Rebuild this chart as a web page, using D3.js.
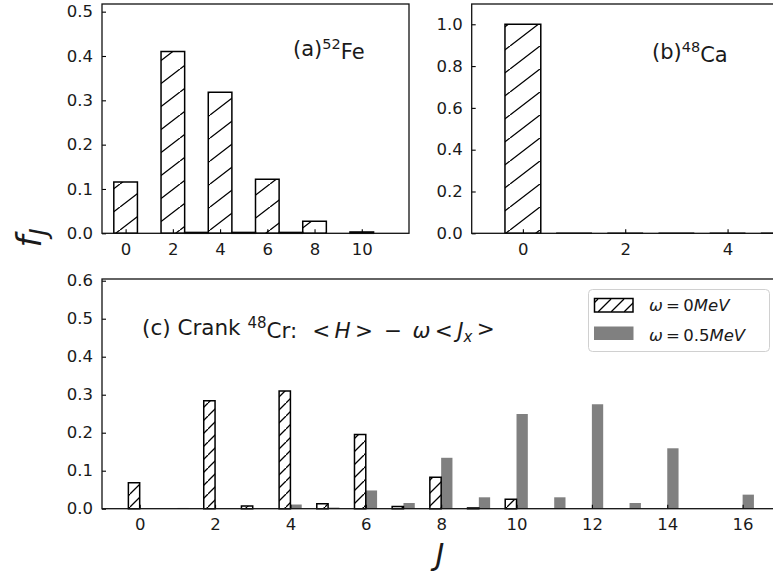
<!DOCTYPE html>
<html>
<head>
<meta charset="utf-8" />
<title>fJ distributions</title>
<script src="https://cdn.jsdelivr.net/npm/d3@7/dist/d3.min.js"></script>
<style>
    body { margin: 0; background: #fff; }
    text { font-family: "DejaVu Sans", sans-serif; fill: #1a1a1a; }
</style>
</head>
<body>
<script>
    // (a) 52Fe
    var jFe = [0, 2, 3, 4, 5, 6, 7, 8, 10];
    var fFe = [0.116, 0.41, 0.002, 0.318, 0.002, 0.122, 0.002, 0.027, 0.003];
    var xTicksFe = [0, 2, 4, 6, 8, 10];
    var yTicksFe = [0, 0.1, 0.2, 0.3, 0.4, 0.5];

    // (b) 48Ca
    var jCa = [0, 1, 2, 3, 4, 5];
    var fCa = [1.0, 0, 0, 0, 0, 0];
    var xTicksCa = [0, 2, 4];
    var yTicksCa = [0, 0.2, 0.4, 0.6, 0.8, 1.0];

    // (c) cranked 48Cr, omega = 0 and omega = 0.5 MeV
    var jCr = [0, 1, 2, 3, 4, 5, 6, 7, 8, 9, 10, 11, 12, 13, 14, 15, 16];
    var fCrW0 = [0.068, null, 0.284, 0.007, 0.31, 0.013, 0.195, 0.006, 0.083, 0.002, 0.025, null, null, null, null, null, null];
    var fCrW05 = [null, 0.002, null, null, 0.011, 0.003, 0.048, 0.015, 0.134, 0.030, 0.249, 0.030, 0.275, 0.015, 0.159, null, 0.037];
    var xTicksCr = [0, 2, 4, 6, 8, 10, 12, 14, 16];
    var yTicksCr = [0, 0.1, 0.2, 0.3, 0.4, 0.5, 0.6];

    var legendLabels = ["0MeV", "0.5MeV"];

    var width = 773;
    var height = 578;
    var tickFont = "16.5px";
    var barGray = "#808080";

    var svg = d3.select("body")
        .append("svg")
        .attr("width", width)
        .attr("height", height);

    var defs = svg.append("defs");
    function hatch(id, w, h) {
        defs.append("pattern")
            .attr("id", id)
            .attr("patternUnits", "userSpaceOnUse")
            .attr("width", w)
            .attr("height", h)
            .append("path")
            .attr("d", "M0," + h + "L" + w + ",0M" + (-w) + "," + h + "L0,0M" + w + "," + (2 * h) + "L" + (2 * w) + "," + h)
            .attr("stroke", "#000")
            .attr("stroke-width", 1.3)
            .attr("fill", "none");
    }
    hatch("hatchA", 30, 23);
    hatch("hatchC", 13, 13);

    function barPath(x0, x1, y0, y1) {
        return "M" + x0 + "," + y0 + "H" + x1 + "V" + y1 + "H" + x0 + "Z";
    }

    function panel(box, xDomain, yDomain, xTicks, yTicks) {
        var x = d3.scaleLinear().domain(xDomain).range([box.left, box.right]);
        var y = d3.scaleLinear().domain(yDomain).range([box.bottom, box.top]);
        var g = svg.append("g");
        var bars = g.append("g");
        var ax = g.append("g");

        ax.append("g")
            .attr("transform", "translate(0," + box.bottom + ")")
            .call(d3.axisBottom(x).tickValues(xTicks).tickSizeInner(-4).tickSizeOuter(0).tickPadding(10).tickFormat(d3.format("d")))
            .call(function (a) { a.select(".domain").remove(); });

        ax.append("g")
            .attr("transform", "translate(" + box.left + ",0)")
            .call(d3.axisLeft(y).tickValues(yTicks).tickSizeInner(-4).tickSizeOuter(0).tickPadding(9).tickFormat(d3.format(".1f")))
            .call(function (a) { a.select(".domain").remove(); });

        ax.selectAll(".tick line").attr("stroke", "#000").attr("stroke-width", 1.1);
        ax.selectAll(".tick text")
            .style("font-family", "DejaVu Sans")
            .style("font-size", tickFont)
            .attr("fill", "#1a1a1a");

        g.append("rect")
            .attr("x", box.left)
            .attr("y", box.top)
            .attr("width", box.right - box.left)
            .attr("height", box.bottom - box.top)
            .attr("fill", "none")
            .attr("stroke", "#111")
            .attr("stroke-width", 1.3);

        return { x: x, y: y, bars: bars, g: g };
    }

    // panel (a)
    var pa = panel({ left: 102, right: 409, top: 4, bottom: 233.3 }, [-1, 12], [0, 0.5173], xTicksFe, yTicksFe);
    pa.bars.selectAll("path")
        .data(jFe).enter()
        .append("path")
        .attr("d", function (d, i) { return barPath(pa.x(d - 0.5), pa.x(d + 0.5), pa.y(0), pa.y(fFe[i])); })
        .attr("fill", "url(#hatchA)")
        .attr("stroke", "#000")
        .attr("stroke-width", 1.5);

    // panel (b), runs past the right edge of the figure
    var pb = panel({ left: 471.7, right: 790, top: 4, bottom: 233.3 }, [-1, 5.22], [0, 1.097], xTicksCa, yTicksCa);
    pb.bars.selectAll("path")
        .data(jCa).enter()
        .append("path")
        .attr("d", function (d, i) { return barPath(pb.x(d - 0.35), pb.x(d + 0.35), pb.y(0), pb.y(fCa[i])); })
        .attr("fill", "url(#hatchA)")
        .attr("stroke", "#000")
        .attr("stroke-width", 1.5);

    // panel (c)
    var pc = panel({ left: 102, right: 780.3, top: 279, bottom: 508.7 }, [-1, 17], [0, 0.6045], xTicksCr, yTicksCr);
    pc.bars.selectAll(".w05")
        .data(jCr.filter(function (d, i) { return fCrW05[i] !== null; })).enter()
        .append("path")
        .attr("class", "w05")
        .attr("d", function (d) { return barPath(pc.x(d), pc.x(d + 0.3), pc.y(0), pc.y(fCrW05[d])); })
        .attr("fill", barGray);
    pc.bars.selectAll(".w0")
        .data(jCr.filter(function (d, i) { return fCrW0[i] !== null; })).enter()
        .append("path")
        .attr("class", "w0")
        .attr("d", function (d) { return barPath(pc.x(d - 0.3), pc.x(d), pc.y(0), pc.y(fCrW0[d])); })
        .attr("fill", "url(#hatchC)")
        .attr("stroke", "#000")
        .attr("stroke-width", 1.5);

    // annotations
    var ta = svg.append("text").attr("x", 293).attr("y", 56).style("font-size", "21px");
    ta.append("tspan").text("(a)");
    ta.append("tspan").attr("dy", "-0.45em").style("font-size", "14.5px").text("52");
    ta.append("tspan").attr("dy", "0.45em").text("Fe");

    var tb = svg.append("text").attr("x", 652).attr("y", 59).style("font-size", "21px");
    tb.append("tspan").text("(b)");
    tb.append("tspan").attr("dy", "-0.45em").style("font-size", "14.5px").text("48");
    tb.append("tspan").attr("dy", "0.45em").text("Ca");

    var tc = svg.append("text").attr("x", 142).attr("y", 335).style("font-size", "21.5px");
    tc.append("tspan").text("(c) Crank ");
    tc.append("tspan").attr("dy", "-0.45em").style("font-size", "15px").text("48");
    tc.append("tspan").attr("dy", "0.45em").text("Cr:\u2002\u2009<\u2009");
    tc.append("tspan").style("font-style", "italic").text("H");
    tc.append("tspan").text("\u2009>\u2002\u2212\u2002");
    tc.append("tspan").style("font-style", "italic").text("\u03c9");
    tc.append("tspan").text("\u2009<\u2009");
    tc.append("tspan").style("font-style", "italic").text("J");
    tc.append("tspan").attr("dy", "0.3em").style("font-size", "15px").style("font-style", "italic").text("x");
    tc.append("tspan").attr("dy", "-0.3em").text("\u2009>");

    // legend
    var lg = svg.append("g");
    lg.append("rect")
        .attr("x", 588.5).attr("y", 289.5)
        .attr("width", 181).attr("height", 62)
        .attr("rx", 4)
        .attr("fill", "#fff").attr("fill-opacity", 0.8)
        .attr("stroke", "#d0d0d0");
    lg.append("rect")
        .attr("x", 594.5).attr("y", 298.5).attr("width", 38.5).attr("height", 13.5)
        .attr("fill", "url(#hatchC)").attr("stroke", "#000").attr("stroke-width", 1.5);
    lg.append("rect")
        .attr("x", 594).attr("y", 326.5).attr("width", 39.5).attr("height", 13.5)
        .attr("fill", barGray);
    legendLabels.forEach(function (lab, i) {
        var t = lg.append("text").attr("x", 649).attr("y", 311 + i * 29.5).style("font-size", "16.5px");
        t.append("tspan").style("font-style", "italic").text("\u03c9");
        t.append("tspan").text("\u2009=\u2009" + lab.replace("MeV", ""));
        t.append("tspan").style("font-style", "italic").text("MeV");
    });

    // axis titles
    var yl = svg.append("text")
        .attr("transform", "translate(41,238) rotate(-90)")
        .attr("text-anchor", "middle")
        .style("font-size", "34px");
    yl.append("tspan").style("font-style", "italic").text("f");
    yl.append("tspan").attr("dy", "0.25em").style("font-size", "24px").style("font-style", "italic").text("J");

    svg.append("text")
        .attr("x", 440).attr("y", 565)
        .attr("text-anchor", "middle")
        .style("font-size", "30px")
        .style("font-style", "italic")
        .text("J");
</script>
</body>
</html>
